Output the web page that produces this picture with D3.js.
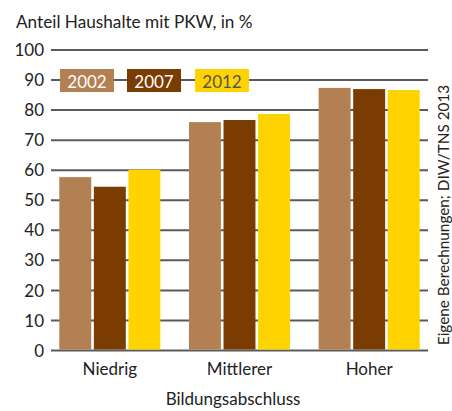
<!DOCTYPE html>
<html><head><meta charset="utf-8">
<script src="https://cdn.jsdelivr.net/npm/d3@7"></script>
<style>body{margin:0;background:#fff;}svg{display:block;font-family:Lato,"Noto Sans",sans-serif;}</style>
</head><body>
<script>
const categories = ["Niedrig", "Mittlerer", "Hoher"];
const years = ["2002", "2007", "2012"];
const values2002 = [57.7, 76.0, 87.4];
const values2007 = [54.5, 76.7, 87.0];
const values2012 = [60.2, 78.7, 86.7];
const yTicks = [0, 10, 20, 30, 40, 50, 60, 70, 80, 90, 100];
const colors = ["#b38053", "#7a3c00", "#ffd300"];
const legendTextColors = ["#ffffff", "#ffffff", "#555555"];

const series = [values2002, values2007, values2012];
const W = 452, H = 411;
const svg = d3.select("body").append("svg").attr("width", W).attr("height", H);

const y = d3.scaleLinear().domain([0, 100]).range([350.5, 50]);
const x0 = d3.scaleBand().domain(categories).range([45, 434]).padding(0);
const x1 = d3.scaleBand().domain(years).range([14.3, x0.bandwidth() - 14.3]).paddingInner(0.075);

// title
svg.append("text").attr("x", 16).attr("y", 28).attr("font-size", 17.2).attr("fill", "#222")
  .text("Anteil Haushalte mit PKW, in %");

// gridlines
svg.append("g").selectAll("line").data(yTicks).join("line")
  .attr("x1", 51).attr("x2", 428).attr("y1", d => y(d)).attr("y2", d => y(d))
  .attr("stroke", "#5a5a5a").attr("stroke-width", 2);

// y tick labels
svg.append("g").selectAll("text").data(yTicks).join("text")
  .attr("x", 44).attr("y", d => y(d)).attr("dy", "0.36em").attr("text-anchor", "end")
  .attr("font-size", 17).attr("fill", "#222").text(d => d);

// bars
const groups = svg.append("g").selectAll("g").data(categories).join("g")
  .attr("transform", d => `translate(${x0(d)},0)`);
groups.selectAll("rect").data((c, i) => years.map((yr, j) => ({yr, v: series[j][i], j})))
  .join("rect")
  .attr("x", d => x1(d.yr)).attr("width", x1.bandwidth())
  .attr("y", d => y(d.v)).attr("height", d => y(0) - y(d.v) - 1)
  .attr("fill", d => colors[d.j]);

// category labels
svg.append("g").selectAll("text").data(categories).join("text")
  .attr("x", d => x0(d) + x0.bandwidth() / 2).attr("y", 375).attr("text-anchor", "middle")
  .attr("font-size", 17).attr("fill", "#222").text(d => d);

// axis title
svg.append("text").attr("x", 233).attr("y", 405).attr("text-anchor", "middle")
  .attr("font-size", 17).attr("fill", "#222").text("Bildungsabschluss");

// legend
const legendX = [60, 127, 195];
const lg = svg.append("g").selectAll("g").data(years).join("g")
  .attr("transform", (d, i) => `translate(${legendX[i]},69)`);
lg.append("rect").attr("width", 54).attr("height", 23).attr("fill", (d, i) => colors[i]);
lg.append("text").attr("x", 27).attr("y", 18.5).attr("text-anchor", "middle")
  .attr("font-size", 17).attr("fill", (d, i) => legendTextColors[i]).text(d => d);

// source
svg.append("text").attr("transform", "translate(449,215) rotate(-90)")
  .attr("text-anchor", "middle").attr("font-size", 15.3).attr("fill", "#222")
  .text("Eigene Berechnungen; DIW/TNS 2013");
</script>
</body></html>
